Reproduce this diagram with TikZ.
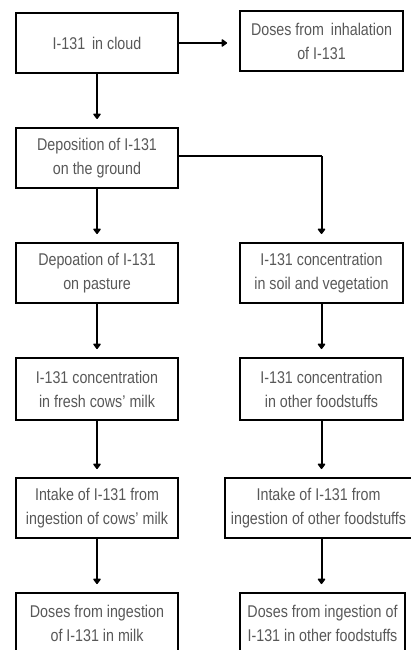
\documentclass[tikz,border=0pt]{standalone}
\usepackage{fontspec}
\setmainfont{Liberation Sans}[FakeStretch=0.84]
\usetikzlibrary{arrows.meta}
\definecolor{txtgray}{HTML}{585858}
\tikzset{
  flowbox/.style={draw=black, line width=2pt, align=center, inner sep=2pt,
    text=txtgray, font=\fontsize{17}{24}\selectfont, minimum height=60pt},
  flowarrow/.style={line width=2pt, -{Triangle[round,length=6pt,width=8.5pt]}, shorten >=8pt},
  flowline/.style={line width=2pt}
}
\begin{document}
\begin{tikzpicture}[x=1pt,y=-1pt]
\useasboundingbox (0,0) rectangle (411,650);
\clip (0,0) rectangle (411,650);
\node[flowbox, minimum width=162pt] (a) at (97,43) {I-131\, in cloud};
\node[flowbox, minimum width=163pt] (b) at (321.5,41) {Doses from\, inhalation\\of I-131};
\node[flowbox, minimum width=162pt] (c) at (97,158) {Deposition of I-131\\on the ground};
\node[flowbox, minimum width=162pt] (d) at (97,273) {Depoation of I-131\\on pasture};
\node[flowbox, minimum width=163pt] (e) at (321.5,273) {I-131 concentration\\in soil and vegetation};
\node[flowbox, minimum width=162pt, minimum height=62pt] (f) at (97,389) {I-131 concentration\\in fresh cows' milk};
\node[flowbox, minimum width=163pt, minimum height=62pt] (g) at (321.5,389) {I-131 concentration\\in other foodstuffs};
\node[flowbox, minimum width=162pt] (h) at (97,508) {Intake of I-131 from\\ingestion of cows' milk};
\node[flowbox, minimum width=187pt] (i) at (318.5,508) {Intake of I-131 from\\ingestion of other foodstuffs};
\node[flowbox, minimum width=162pt] (j) at (97,623) {Doses from ingestion\\of I-131 in milk};
\node[flowbox, minimum width=165pt] (k) at (322.5,623) {Doses from ingestion of\\I-131 in other foodstuffs};
\coordinate (cr) at (321.5,156);
\draw[flowarrow, shorten >=12pt] (a.east) -- (b.west |- a.east);
\draw[flowarrow] (a.south) -- (c.north);
\draw[flowline] (c.east |- cr) -- (cr);
\draw[flowarrow] (cr) -- (e.north);
\draw[flowarrow] (c.south) -- (d.north);
\draw[flowarrow] (d.south) -- (f.north);
\draw[flowarrow] (e.south) -- (g.north);
\draw[flowarrow] (f.south) -- (h.north);
\draw[flowarrow] (g.south) -- (g.south |- i.north);
\draw[flowarrow] (h.south) -- (j.north);
\draw[flowarrow] (g.south |- i.south) -- (g.south |- k.north);
\end{tikzpicture}
\end{document}
